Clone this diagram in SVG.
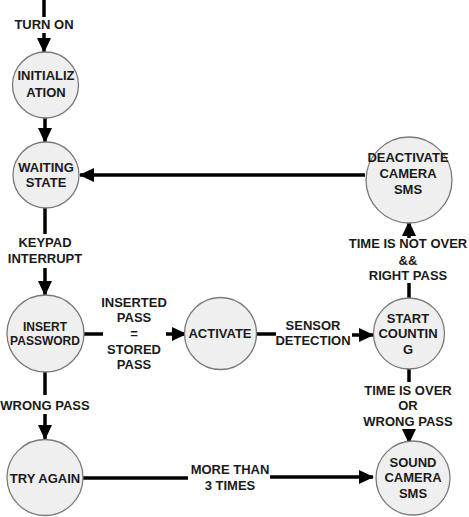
<svg xmlns="http://www.w3.org/2000/svg" width="469" height="517" viewBox="0 0 469 517">
<defs>
<style>
.n{fill:#efefef;stroke:#7a7a7a;stroke-width:1.3}
.t{font-family:"Liberation Sans",Arial,sans-serif;font-weight:bold;font-size:13px;fill:#1a1a1a;text-anchor:middle}
.c{stroke:#000;stroke-width:3.5;fill:none}
.a{stroke:#000;stroke-width:3.5;fill:none;marker-end:url(#ah)}
</style>
<marker id="ah" markerUnits="userSpaceOnUse" markerWidth="16" markerHeight="16" viewBox="0 0 16 16" refX="14" refY="8" orient="auto">
<path d="M0,1 L15,8 L0,15 Z" fill="#000"/>
</marker>
</defs>
<rect width="469" height="517" fill="#fff"/>
<g id="connectors">
<line class="c" x1="44" y1="0" x2="44" y2="17"/>
<line class="a" x1="44" y1="33" x2="44" y2="52"/>
<line class="a" x1="45" y1="118" x2="45" y2="142"/>
<line class="c" x1="45" y1="208" x2="45" y2="234"/>
<line class="a" x1="45" y1="268" x2="45" y2="295"/>
<line class="c" x1="84" y1="334" x2="103" y2="334"/>
<line class="a" x1="166" y1="334" x2="186" y2="334"/>
<line class="c" x1="256" y1="334" x2="276" y2="334"/>
<line class="a" x1="352" y1="335" x2="373" y2="335"/>
<line class="c" x1="409" y1="299" x2="409" y2="283"/>
<line class="a" x1="409" y1="238" x2="409" y2="222"/>
<line class="a" x1="365" y1="175" x2="80" y2="175"/>
<line class="c" x1="409" y1="367" x2="409" y2="382"/>
<line class="a" x1="409" y1="429" x2="409" y2="443"/>
<line class="c" x1="45" y1="372" x2="45" y2="395"/>
<line class="a" x1="45" y1="414" x2="45" y2="439"/>
<line class="c" x1="83" y1="478" x2="188" y2="478"/>
<line class="a" x1="270" y1="477" x2="373" y2="477"/>
<text class="t" x="44" y="29">TURN ON</text>
<text class="t" x="45" y="247">KEYPAD</text>
<text class="t" x="45" y="263">INTERRUPT</text>
<text class="t" x="134" y="307">INSERTED</text>
<text class="t" x="134" y="322">PASS</text>
<text class="t" x="134" y="338">=</text>
<text class="t" x="134" y="354">STORED</text>
<text class="t" x="134" y="369">PASS</text>
<text class="t" x="313" y="330">SENSOR</text>
<text class="t" x="313" y="345">DETECTION</text>
<text class="t" x="408" y="248">TIME IS NOT OVER</text>
<text class="t" x="408" y="265">&amp;&amp;</text>
<text class="t" x="408" y="280">RIGHT PASS</text>
<text class="t" x="408" y="395">TIME IS OVER</text>
<text class="t" x="408" y="410">OR</text>
<text class="t" x="408" y="426">WRONG PASS</text>
<text class="t" x="45" y="410">WRONG PASS</text>
<text class="t" x="230" y="474">MORE THAN</text>
<text class="t" x="230" y="490">3 TIMES</text>
</g>
<g id="init">
<circle class="n" cx="45.5" cy="85" r="33"/>
<text class="t" x="46" y="80">INITIALIZ</text>
<text class="t" x="46" y="97">ATION</text>
</g>
<g id="waiting">
<circle class="n" cx="46" cy="175" r="33"/>
<text class="t" x="46" y="172">WAITING</text>
<text class="t" x="46" y="187">STATE</text>
</g>
<g id="insert">
<circle class="n" cx="45.5" cy="333.5" r="38.5"/>
<text class="t" x="45" y="331" style="font-size:12px">INSERT</text>
<text class="t" x="45" y="345" style="font-size:12px">PASSWORD</text>
</g>
<g id="activate">
<circle class="n" cx="220.5" cy="333.5" r="36"/>
<text class="t" x="220" y="338">ACTIVATE</text>
</g>
<g id="start">
<circle class="n" cx="409" cy="333.5" r="35.5"/>
<text class="t" x="408" y="323">START</text>
<text class="t" x="408" y="338">COUNTIN</text>
<text class="t" x="408" y="354">G</text>
</g>
<g id="deactivate">
<circle class="n" cx="409" cy="180" r="43"/>
<text class="t" x="408" y="162">DEACTIVATE</text>
<text class="t" x="408" y="178">CAMERA</text>
<text class="t" x="408" y="194">SMS</text>
</g>
<g id="tryagain">
<circle class="n" cx="45" cy="477.5" r="38"/>
<text class="t" x="45" y="483">TRY AGAIN</text>
</g>
<g id="sound">
<circle class="n" cx="413" cy="478" r="37"/>
<text class="t" x="413" y="467">SOUND</text>
<text class="t" x="413" y="482">CAMERA</text>
<text class="t" x="413" y="498">SMS</text>
</g>
</svg>
